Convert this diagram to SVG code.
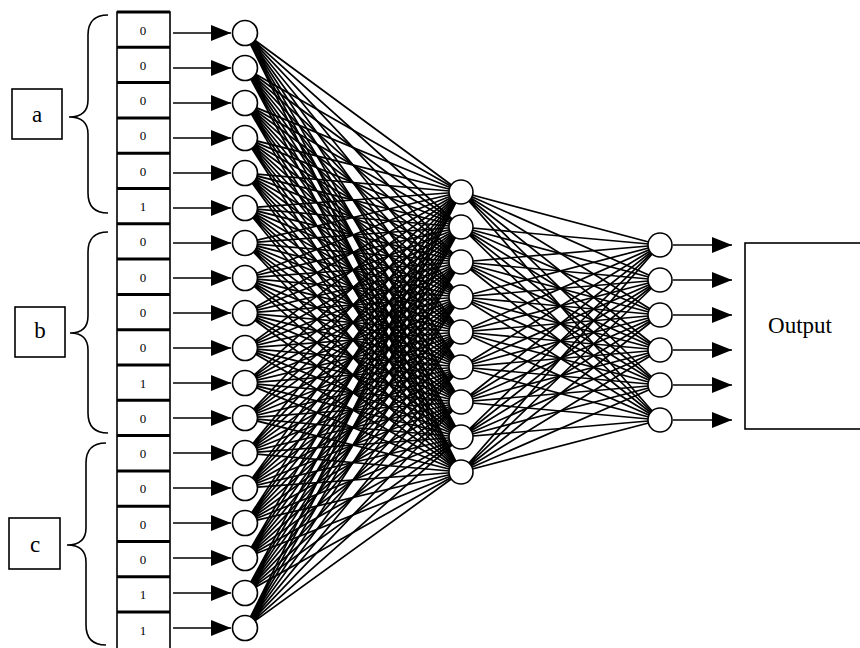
<svg xmlns="http://www.w3.org/2000/svg" width="860" height="648" viewBox="0 0 860 648">
<style>
.bg{fill:#fff}
.ln{stroke:#000;stroke-width:1.7;fill:none;stroke-linejoin:round}
.ar{stroke:#000;stroke-width:1.5;fill:none}
.nd{fill:#fff;stroke:#000;stroke-width:1.6}
.bx{fill:#fff;stroke:#000;stroke-width:1.6}
.sep{stroke:#000;stroke-width:3}
.br{fill:none;stroke:#000;stroke-width:1.6}
.dg{font-family:"Liberation Serif",serif;font-size:13px;text-anchor:middle;fill:#000}
.lb{font-family:"Liberation Serif",serif;font-size:23px;text-anchor:middle;fill:#000}
.out{font-family:"Liberation Serif",serif;font-size:23px;text-anchor:middle;fill:#000}
</style>
<defs>
<marker id="ah" viewBox="0 0 20 16" refX="20" refY="8" markerWidth="20" markerHeight="16" markerUnits="userSpaceOnUse" orient="auto">
<path d="M0,0 L20,8 L0,16 z" fill="#000"/>
</marker>
</defs>
<rect class="bg" x="0" y="0" width="860" height="648"/>

<g id="connectors">
<path class="ln" d="M245,33 L461,192 245,33 461,227 245,33 461,262 245,33 461,297 245,33 461,332 245,33 461,367 245,33 461,402 245,33 461,437 245,33 461,472"/>
<path class="ln" d="M245,68 L461,192 245,68 461,227 245,68 461,262 245,68 461,297 245,68 461,332 245,68 461,367 245,68 461,402 245,68 461,437 245,68 461,472"/>
<path class="ln" d="M245,103 L461,192 245,103 461,227 245,103 461,262 245,103 461,297 245,103 461,332 245,103 461,367 245,103 461,402 245,103 461,437 245,103 461,472"/>
<path class="ln" d="M245,138 L461,192 245,138 461,227 245,138 461,262 245,138 461,297 245,138 461,332 245,138 461,367 245,138 461,402 245,138 461,437 245,138 461,472"/>
<path class="ln" d="M245,173 L461,192 245,173 461,227 245,173 461,262 245,173 461,297 245,173 461,332 245,173 461,367 245,173 461,402 245,173 461,437 245,173 461,472"/>
<path class="ln" d="M245,208 L461,192 245,208 461,227 245,208 461,262 245,208 461,297 245,208 461,332 245,208 461,367 245,208 461,402 245,208 461,437 245,208 461,472"/>
<path class="ln" d="M245,243 L461,192 245,243 461,227 245,243 461,262 245,243 461,297 245,243 461,332 245,243 461,367 245,243 461,402 245,243 461,437 245,243 461,472"/>
<path class="ln" d="M245,278 L461,192 245,278 461,227 245,278 461,262 245,278 461,297 245,278 461,332 245,278 461,367 245,278 461,402 245,278 461,437 245,278 461,472"/>
<path class="ln" d="M245,313 L461,192 245,313 461,227 245,313 461,262 245,313 461,297 245,313 461,332 245,313 461,367 245,313 461,402 245,313 461,437 245,313 461,472"/>
<path class="ln" d="M245,348 L461,192 245,348 461,227 245,348 461,262 245,348 461,297 245,348 461,332 245,348 461,367 245,348 461,402 245,348 461,437 245,348 461,472"/>
<path class="ln" d="M245,383 L461,192 245,383 461,227 245,383 461,262 245,383 461,297 245,383 461,332 245,383 461,367 245,383 461,402 245,383 461,437 245,383 461,472"/>
<path class="ln" d="M245,418 L461,192 245,418 461,227 245,418 461,262 245,418 461,297 245,418 461,332 245,418 461,367 245,418 461,402 245,418 461,437 245,418 461,472"/>
<path class="ln" d="M245,453 L461,192 245,453 461,227 245,453 461,262 245,453 461,297 245,453 461,332 245,453 461,367 245,453 461,402 245,453 461,437 245,453 461,472"/>
<path class="ln" d="M245,488 L461,192 245,488 461,227 245,488 461,262 245,488 461,297 245,488 461,332 245,488 461,367 245,488 461,402 245,488 461,437 245,488 461,472"/>
<path class="ln" d="M245,523 L461,192 245,523 461,227 245,523 461,262 245,523 461,297 245,523 461,332 245,523 461,367 245,523 461,402 245,523 461,437 245,523 461,472"/>
<path class="ln" d="M245,558 L461,192 245,558 461,227 245,558 461,262 245,558 461,297 245,558 461,332 245,558 461,367 245,558 461,402 245,558 461,437 245,558 461,472"/>
<path class="ln" d="M245,593 L461,192 245,593 461,227 245,593 461,262 245,593 461,297 245,593 461,332 245,593 461,367 245,593 461,402 245,593 461,437 245,593 461,472"/>
<path class="ln" d="M245,628 L461,192 245,628 461,227 245,628 461,262 245,628 461,297 245,628 461,332 245,628 461,367 245,628 461,402 245,628 461,437 245,628 461,472"/>

<path class="ln" d="M461,192 L660,245 461,192 660,280 461,192 660,315 461,192 660,350 461,192 660,385 461,192 660,420"/>
<path class="ln" d="M461,227 L660,245 461,227 660,280 461,227 660,315 461,227 660,350 461,227 660,385 461,227 660,420"/>
<path class="ln" d="M461,262 L660,245 461,262 660,280 461,262 660,315 461,262 660,350 461,262 660,385 461,262 660,420"/>
<path class="ln" d="M461,297 L660,245 461,297 660,280 461,297 660,315 461,297 660,350 461,297 660,385 461,297 660,420"/>
<path class="ln" d="M461,332 L660,245 461,332 660,280 461,332 660,315 461,332 660,350 461,332 660,385 461,332 660,420"/>
<path class="ln" d="M461,367 L660,245 461,367 660,280 461,367 660,315 461,367 660,350 461,367 660,385 461,367 660,420"/>
<path class="ln" d="M461,402 L660,245 461,402 660,280 461,402 660,315 461,402 660,350 461,402 660,385 461,402 660,420"/>
<path class="ln" d="M461,437 L660,245 461,437 660,280 461,437 660,315 461,437 660,350 461,437 660,385 461,437 660,420"/>
<path class="ln" d="M461,472 L660,245 461,472 660,280 461,472 660,315 461,472 660,350 461,472 660,385 461,472 660,420"/>

<line class="ar" x1="173" y1="33" x2="231" y2="33" marker-end="url(#ah)"/>
<line class="ar" x1="173" y1="68" x2="231" y2="68" marker-end="url(#ah)"/>
<line class="ar" x1="173" y1="103" x2="231" y2="103" marker-end="url(#ah)"/>
<line class="ar" x1="173" y1="138" x2="231" y2="138" marker-end="url(#ah)"/>
<line class="ar" x1="173" y1="173" x2="231" y2="173" marker-end="url(#ah)"/>
<line class="ar" x1="173" y1="208" x2="231" y2="208" marker-end="url(#ah)"/>
<line class="ar" x1="173" y1="243" x2="231" y2="243" marker-end="url(#ah)"/>
<line class="ar" x1="173" y1="278" x2="231" y2="278" marker-end="url(#ah)"/>
<line class="ar" x1="173" y1="313" x2="231" y2="313" marker-end="url(#ah)"/>
<line class="ar" x1="173" y1="348" x2="231" y2="348" marker-end="url(#ah)"/>
<line class="ar" x1="173" y1="383" x2="231" y2="383" marker-end="url(#ah)"/>
<line class="ar" x1="173" y1="418" x2="231" y2="418" marker-end="url(#ah)"/>
<line class="ar" x1="173" y1="453" x2="231" y2="453" marker-end="url(#ah)"/>
<line class="ar" x1="173" y1="488" x2="231" y2="488" marker-end="url(#ah)"/>
<line class="ar" x1="173" y1="523" x2="231" y2="523" marker-end="url(#ah)"/>
<line class="ar" x1="173" y1="558" x2="231" y2="558" marker-end="url(#ah)"/>
<line class="ar" x1="173" y1="593" x2="231" y2="593" marker-end="url(#ah)"/>
<line class="ar" x1="173" y1="628" x2="231" y2="628" marker-end="url(#ah)"/>

<line class="ar" x1="673" y1="245" x2="732" y2="245" marker-end="url(#ah)"/>
<line class="ar" x1="673" y1="280" x2="732" y2="280" marker-end="url(#ah)"/>
<line class="ar" x1="673" y1="315" x2="732" y2="315" marker-end="url(#ah)"/>
<line class="ar" x1="673" y1="350" x2="732" y2="350" marker-end="url(#ah)"/>
<line class="ar" x1="673" y1="385" x2="732" y2="385" marker-end="url(#ah)"/>
<line class="ar" x1="673" y1="420" x2="732" y2="420" marker-end="url(#ah)"/>
</g>

<g id="braces">
<path class="br" d="M108,15 Q88,15 88,35 L88,100 Q88,117 69,117 Q88,117 88,134 L88,193 Q88,213 108,213"/>
<path class="br" d="M108,232 Q88,232 88,252 L88,316 Q88,333 70,333 Q88,333 88,350 L88,413 Q88,433 108,433"/>
<path class="br" d="M106,443 Q86,443 86,463 L86,528 Q86,545 67,545 Q86,545 86,562 L86,625 Q86,645 106,645"/>
</g>

<g id="label-a"><rect class="bx" x="12" y="89" width="50" height="50"/><text class="lb" x="37" y="122">a</text></g>
<g id="label-b"><rect class="bx" x="15" y="307" width="50" height="50"/><text class="lb" x="40" y="338">b</text></g>
<g id="label-c"><rect class="bx" x="9" y="518" width="51" height="51"/><text class="lb" x="35" y="552">c</text></g>

<g id="input-boxes">
<rect class="bx" x="117" y="12" width="53" height="640"/>
<line class="sep" x1="117" y1="12" x2="170" y2="12"/>
<line class="sep" x1="117" y1="47.3" x2="170" y2="47.3"/>
<line class="sep" x1="117" y1="82.6" x2="170" y2="82.6"/>
<line class="sep" x1="117" y1="117.9" x2="170" y2="117.9"/>
<line class="sep" x1="117" y1="153.2" x2="170" y2="153.2"/>
<line class="sep" x1="117" y1="188.5" x2="170" y2="188.5"/>
<line class="sep" x1="117" y1="223.8" x2="170" y2="223.8"/>
<line class="sep" x1="117" y1="259.1" x2="170" y2="259.1"/>
<line class="sep" x1="117" y1="294.4" x2="170" y2="294.4"/>
<line class="sep" x1="117" y1="329.7" x2="170" y2="329.7"/>
<line class="sep" x1="117" y1="365" x2="170" y2="365"/>
<line class="sep" x1="117" y1="400.3" x2="170" y2="400.3"/>
<line class="sep" x1="117" y1="435.6" x2="170" y2="435.6"/>
<line class="sep" x1="117" y1="470.9" x2="170" y2="470.9"/>
<line class="sep" x1="117" y1="506.2" x2="170" y2="506.2"/>
<line class="sep" x1="117" y1="541.5" x2="170" y2="541.5"/>
<line class="sep" x1="117" y1="576.8" x2="170" y2="576.8"/>
<line class="sep" x1="117" y1="612.1" x2="170" y2="612.1"/>
</g>
<g id="input-values">
<text class="dg" x="143" y="34.5">0</text>
<text class="dg" x="143" y="69.8">0</text>
<text class="dg" x="143" y="105.1">0</text>
<text class="dg" x="143" y="140.4">0</text>
<text class="dg" x="143" y="175.7">0</text>
<text class="dg" x="143" y="211">1</text>
<text class="dg" x="143" y="246.3">0</text>
<text class="dg" x="143" y="281.6">0</text>
<text class="dg" x="143" y="316.9">0</text>
<text class="dg" x="143" y="352.2">0</text>
<text class="dg" x="143" y="387.5">1</text>
<text class="dg" x="143" y="422.8">0</text>
<text class="dg" x="143" y="458.1">0</text>
<text class="dg" x="143" y="493.4">0</text>
<text class="dg" x="143" y="528.7">0</text>
<text class="dg" x="143" y="564">0</text>
<text class="dg" x="143" y="599.3">1</text>
<text class="dg" x="143" y="634.6">1</text>
</g>

<g id="input-1"><circle class="nd" cx="245" cy="33" r="12.5"/></g>
<g id="input-2"><circle class="nd" cx="245" cy="68" r="12.5"/></g>
<g id="input-3"><circle class="nd" cx="245" cy="103" r="12.5"/></g>
<g id="input-4"><circle class="nd" cx="245" cy="138" r="12.5"/></g>
<g id="input-5"><circle class="nd" cx="245" cy="173" r="12.5"/></g>
<g id="input-6"><circle class="nd" cx="245" cy="208" r="12.5"/></g>
<g id="input-7"><circle class="nd" cx="245" cy="243" r="12.5"/></g>
<g id="input-8"><circle class="nd" cx="245" cy="278" r="12.5"/></g>
<g id="input-9"><circle class="nd" cx="245" cy="313" r="12.5"/></g>
<g id="input-10"><circle class="nd" cx="245" cy="348" r="12.5"/></g>
<g id="input-11"><circle class="nd" cx="245" cy="383" r="12.5"/></g>
<g id="input-12"><circle class="nd" cx="245" cy="418" r="12.5"/></g>
<g id="input-13"><circle class="nd" cx="245" cy="453" r="12.5"/></g>
<g id="input-14"><circle class="nd" cx="245" cy="488" r="12.5"/></g>
<g id="input-15"><circle class="nd" cx="245" cy="523" r="12.5"/></g>
<g id="input-16"><circle class="nd" cx="245" cy="558" r="12.5"/></g>
<g id="input-17"><circle class="nd" cx="245" cy="593" r="12.5"/></g>
<g id="input-18"><circle class="nd" cx="245" cy="628" r="12.5"/></g>

<g id="hidden-1"><circle class="nd" cx="461" cy="192" r="12"/></g>
<g id="hidden-2"><circle class="nd" cx="461" cy="227" r="12"/></g>
<g id="hidden-3"><circle class="nd" cx="461" cy="262" r="12"/></g>
<g id="hidden-4"><circle class="nd" cx="461" cy="297" r="12"/></g>
<g id="hidden-5"><circle class="nd" cx="461" cy="332" r="12"/></g>
<g id="hidden-6"><circle class="nd" cx="461" cy="367" r="12"/></g>
<g id="hidden-7"><circle class="nd" cx="461" cy="402" r="12"/></g>
<g id="hidden-8"><circle class="nd" cx="461" cy="437" r="12"/></g>
<g id="hidden-9"><circle class="nd" cx="461" cy="472" r="12"/></g>

<g id="output-1"><circle class="nd" cx="660" cy="245" r="12"/></g>
<g id="output-2"><circle class="nd" cx="660" cy="280" r="12"/></g>
<g id="output-3"><circle class="nd" cx="660" cy="315" r="12"/></g>
<g id="output-4"><circle class="nd" cx="660" cy="350" r="12"/></g>
<g id="output-5"><circle class="nd" cx="660" cy="385" r="12"/></g>
<g id="output-6"><circle class="nd" cx="660" cy="420" r="12"/></g>

<g id="output-box"><rect class="bx" x="745" y="243" width="120" height="186"/><text class="out" x="800" y="333">Output</text></g>
</svg>
